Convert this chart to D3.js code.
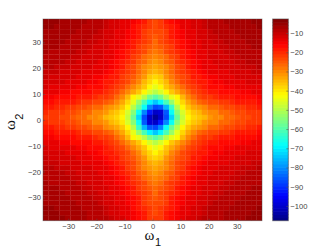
<!DOCTYPE html>
<html>
<head>
<meta charset="utf-8">
<script src="https://cdnjs.cloudflare.com/ajax/libs/d3/7.8.5/d3.min.js"></script>
<style>
body { margin: 0; background: #fff; }
svg { display: block; }
.tick text { font-family: "Liberation Sans", sans-serif; font-size: 7.6px; fill: #444; }
.tick line { stroke: #555; }
.domain { display: none; }
</style>
</head>
<body>
<div id="chart-area"></div>
<script>
// tick labels
var omegaTicks = [-30, -20, -10, 0, 10, 20, 30];
var barTicks = [-10, -20, -30, -40, -50, -60, -70, -80, -90, -100];

// jet colormap stops
var jetStops = ["#000080", "#0000ff", "#00ffff", "#ffff00", "#ff0000", "#800000"];
var jetDomain = [-107.7, -94.6, -68.3, -42.1, -15.8, -2.7];

// magnitude in dB, top row first, left column first
var magnitude = [
[-5,-5,-5,-6,-6,-6,-7,-7,-8,-8,-9,-10,-11,-12,-13,-14,-15,-17,-19,-21,-23,-21,-19,-17,-15,-14,-13,-12,-11,-10,-9,-8,-8,-7,-7,-6,-6,-6,-5,-5],
[-5,-5,-6,-6,-6,-7,-7,-8,-8,-9,-9,-10,-11,-12,-13,-14,-16,-18,-20,-22,-23,-22,-20,-18,-16,-14,-13,-12,-11,-10,-9,-9,-8,-8,-7,-7,-6,-6,-6,-5],
[-6,-6,-6,-6,-7,-7,-8,-8,-9,-9,-10,-11,-12,-13,-14,-15,-17,-19,-21,-23,-24,-23,-21,-19,-17,-15,-14,-13,-12,-11,-10,-9,-9,-8,-8,-7,-7,-6,-6,-6],
[-6,-6,-7,-7,-7,-8,-8,-9,-9,-10,-10,-11,-12,-13,-14,-15,-17,-19,-21,-24,-25,-24,-21,-19,-17,-15,-14,-13,-12,-11,-10,-10,-9,-9,-8,-8,-7,-7,-7,-6],
[-6,-7,-7,-7,-8,-8,-9,-9,-10,-10,-11,-12,-13,-14,-15,-16,-18,-20,-22,-24,-26,-24,-22,-20,-18,-16,-15,-14,-13,-12,-11,-10,-10,-9,-9,-8,-8,-7,-7,-7],
[-7,-7,-7,-8,-8,-9,-9,-10,-10,-11,-11,-12,-13,-14,-15,-17,-19,-21,-23,-25,-27,-25,-23,-21,-19,-17,-15,-14,-13,-12,-11,-11,-10,-10,-9,-9,-8,-8,-7,-7],
[-7,-8,-8,-8,-9,-9,-10,-10,-11,-11,-12,-13,-14,-15,-16,-18,-20,-22,-24,-26,-28,-26,-24,-22,-20,-18,-16,-15,-14,-13,-12,-11,-11,-10,-10,-9,-9,-8,-8,-8],
[-8,-8,-8,-9,-9,-10,-10,-11,-11,-12,-12,-13,-14,-15,-17,-19,-21,-24,-26,-28,-29,-28,-26,-24,-21,-19,-17,-15,-14,-13,-12,-12,-11,-11,-10,-10,-9,-9,-8,-8],
[-8,-9,-9,-9,-10,-10,-11,-11,-12,-12,-13,-14,-15,-16,-18,-20,-22,-25,-27,-29,-31,-29,-27,-25,-22,-20,-18,-16,-15,-14,-13,-12,-12,-11,-11,-10,-10,-9,-9,-9],
[-9,-9,-10,-10,-10,-11,-11,-12,-12,-13,-13,-14,-15,-17,-19,-21,-24,-26,-29,-31,-33,-31,-29,-26,-24,-21,-19,-17,-15,-14,-13,-13,-12,-12,-11,-11,-10,-10,-10,-9],
[-10,-10,-10,-11,-11,-12,-12,-13,-13,-14,-14,-15,-16,-18,-20,-22,-24,-27,-30,-33,-35,-33,-30,-27,-24,-22,-20,-18,-16,-15,-14,-14,-13,-13,-12,-12,-11,-11,-10,-10],
[-10,-11,-11,-11,-12,-12,-13,-13,-14,-15,-15,-16,-18,-19,-21,-23,-25,-28,-32,-36,-38,-36,-32,-28,-25,-23,-21,-19,-18,-16,-15,-15,-14,-13,-13,-12,-12,-11,-11,-11],
[-11,-12,-12,-12,-13,-13,-14,-14,-15,-15,-16,-18,-19,-20,-22,-24,-27,-30,-34,-38,-41,-38,-34,-30,-27,-24,-22,-20,-19,-18,-16,-15,-15,-14,-14,-13,-13,-12,-12,-12],
[-12,-13,-13,-13,-14,-14,-15,-15,-16,-16,-17,-19,-20,-22,-24,-26,-29,-33,-37,-41,-44,-41,-37,-33,-29,-26,-24,-22,-20,-19,-17,-16,-16,-15,-15,-14,-14,-13,-13,-13],
[-14,-14,-14,-15,-15,-16,-16,-17,-17,-18,-19,-20,-22,-24,-26,-30,-33,-37,-41,-46,-49,-46,-41,-37,-33,-30,-26,-24,-22,-20,-19,-18,-17,-17,-16,-16,-15,-15,-14,-14],
[-15,-15,-16,-16,-17,-17,-18,-18,-19,-20,-21,-22,-24,-27,-30,-35,-41,-45,-50,-56,-60,-56,-50,-45,-41,-35,-30,-27,-24,-22,-21,-20,-19,-18,-18,-17,-17,-16,-16,-15],
[-17,-17,-18,-18,-19,-19,-20,-21,-22,-23,-24,-25,-27,-30,-33,-38,-45,-52,-61,-69,-74,-69,-61,-52,-45,-38,-33,-30,-27,-25,-24,-23,-22,-21,-20,-19,-19,-18,-18,-17],
[-19,-19,-20,-20,-21,-22,-23,-24,-25,-26,-27,-29,-31,-33,-37,-42,-49,-58,-68,-80,-88,-85,-76,-62,-49,-42,-37,-33,-31,-29,-27,-26,-25,-24,-23,-22,-21,-20,-20,-19],
[-20,-21,-21,-22,-23,-24,-25,-26,-27,-29,-30,-32,-34,-36,-39,-46,-55,-68,-81,-92,-100,-98,-85,-68,-55,-46,-39,-36,-34,-32,-30,-29,-27,-26,-25,-24,-23,-22,-21,-21],
[-21,-21,-22,-23,-24,-25,-26,-27,-29,-30,-32,-34,-36,-38,-41,-48,-58,-72,-88,-100,-106,-100,-88,-72,-58,-48,-41,-38,-36,-34,-32,-30,-29,-27,-26,-25,-24,-23,-22,-21],
[-20,-21,-21,-22,-23,-24,-25,-26,-27,-29,-30,-32,-34,-36,-39,-46,-55,-68,-85,-98,-100,-92,-81,-68,-55,-46,-39,-36,-34,-32,-30,-29,-27,-26,-25,-24,-23,-22,-21,-21],
[-19,-19,-20,-20,-21,-22,-23,-24,-25,-26,-27,-29,-31,-33,-37,-42,-49,-62,-76,-85,-88,-80,-68,-58,-49,-42,-37,-33,-31,-29,-27,-26,-25,-24,-23,-22,-21,-20,-20,-19],
[-17,-17,-18,-18,-19,-19,-20,-21,-22,-23,-24,-25,-27,-30,-33,-38,-45,-52,-61,-69,-74,-69,-61,-52,-45,-38,-33,-30,-27,-25,-24,-23,-22,-21,-20,-19,-19,-18,-18,-17],
[-15,-15,-16,-16,-17,-17,-18,-18,-19,-20,-21,-22,-24,-27,-30,-35,-41,-45,-50,-56,-60,-56,-50,-45,-41,-35,-30,-27,-24,-22,-21,-20,-19,-18,-18,-17,-17,-16,-16,-15],
[-14,-14,-14,-15,-15,-16,-16,-17,-17,-18,-19,-20,-22,-24,-26,-30,-33,-37,-41,-46,-49,-46,-41,-37,-33,-30,-26,-24,-22,-20,-19,-18,-17,-17,-16,-16,-15,-15,-14,-14],
[-12,-13,-13,-13,-14,-14,-15,-15,-16,-16,-17,-19,-20,-22,-24,-26,-29,-33,-37,-41,-44,-41,-37,-33,-29,-26,-24,-22,-20,-19,-17,-16,-16,-15,-15,-14,-14,-13,-13,-13],
[-11,-12,-12,-12,-13,-13,-14,-14,-15,-15,-16,-18,-19,-20,-22,-24,-27,-30,-34,-38,-41,-38,-34,-30,-27,-24,-22,-20,-19,-18,-16,-15,-15,-14,-14,-13,-13,-12,-12,-12],
[-10,-11,-11,-11,-12,-12,-13,-13,-14,-15,-15,-16,-18,-19,-21,-23,-25,-28,-32,-36,-38,-36,-32,-28,-25,-23,-21,-19,-18,-16,-15,-15,-14,-13,-13,-12,-12,-11,-11,-11],
[-10,-10,-10,-11,-11,-12,-12,-13,-13,-14,-14,-15,-16,-18,-20,-22,-24,-27,-30,-33,-35,-33,-30,-27,-24,-22,-20,-18,-16,-15,-14,-14,-13,-13,-12,-12,-11,-11,-10,-10],
[-9,-9,-10,-10,-10,-11,-11,-12,-12,-13,-13,-14,-15,-17,-19,-21,-24,-26,-29,-31,-33,-31,-29,-26,-24,-21,-19,-17,-15,-14,-13,-13,-12,-12,-11,-11,-10,-10,-10,-9],
[-8,-9,-9,-9,-10,-10,-11,-11,-12,-12,-13,-14,-15,-16,-18,-20,-22,-25,-27,-29,-31,-29,-27,-25,-22,-20,-18,-16,-15,-14,-13,-12,-12,-11,-11,-10,-10,-9,-9,-9],
[-8,-8,-8,-9,-9,-10,-10,-11,-11,-12,-12,-13,-14,-15,-17,-19,-21,-24,-26,-28,-29,-28,-26,-24,-21,-19,-17,-15,-14,-13,-12,-12,-11,-11,-10,-10,-9,-9,-8,-8],
[-7,-8,-8,-8,-9,-9,-10,-10,-11,-11,-12,-13,-14,-15,-16,-18,-20,-22,-24,-26,-28,-26,-24,-22,-20,-18,-16,-15,-14,-13,-12,-11,-11,-10,-10,-9,-9,-8,-8,-8],
[-7,-7,-7,-8,-8,-9,-9,-10,-10,-11,-11,-12,-13,-14,-15,-17,-19,-21,-23,-25,-27,-25,-23,-21,-19,-17,-15,-14,-13,-12,-11,-11,-10,-10,-9,-9,-8,-8,-7,-7],
[-6,-7,-7,-7,-8,-8,-9,-9,-10,-10,-11,-12,-13,-14,-15,-16,-18,-20,-22,-24,-26,-24,-22,-20,-18,-16,-15,-14,-13,-12,-11,-10,-10,-9,-9,-8,-8,-7,-7,-7],
[-6,-6,-7,-7,-7,-8,-8,-9,-9,-10,-10,-11,-12,-13,-14,-15,-17,-19,-21,-24,-25,-24,-21,-19,-17,-15,-14,-13,-12,-11,-10,-10,-9,-9,-8,-8,-7,-7,-7,-6],
[-6,-6,-6,-6,-7,-7,-8,-8,-9,-9,-10,-11,-12,-13,-14,-15,-17,-19,-21,-23,-24,-23,-21,-19,-17,-15,-14,-13,-12,-11,-10,-9,-9,-8,-8,-7,-7,-6,-6,-6],
[-5,-5,-6,-6,-6,-7,-7,-8,-8,-9,-9,-10,-11,-12,-13,-14,-16,-18,-20,-22,-23,-22,-20,-18,-16,-14,-13,-12,-11,-10,-9,-9,-8,-8,-7,-7,-6,-6,-6,-5],
[-5,-5,-5,-6,-6,-6,-7,-7,-8,-8,-9,-10,-11,-12,-13,-14,-15,-17,-19,-21,-23,-21,-19,-17,-15,-14,-13,-12,-11,-10,-9,-8,-8,-7,-7,-6,-6,-6,-5,-5],
[-5,-5,-5,-5,-6,-6,-7,-7,-8,-8,-9,-9,-10,-11,-12,-13,-15,-17,-19,-21,-22,-21,-19,-17,-15,-13,-12,-11,-10,-9,-9,-8,-8,-7,-7,-6,-6,-5,-5,-5]
];

var svg = d3.select("#chart-area").append("svg")
    .attr("width", 332)
    .attr("height", 250);

var plot = { left: 43, right: 262, top: 19, bottom: 220.7 };
var bar = { left: 272.7, right: 288.3 };

// axes scales
var x = d3.scaleLinear().domain([-39, 39]).range([plot.left, plot.right]);
var y = d3.scaleLinear().domain([-39, 39]).range([plot.bottom, plot.top]);

// cell scales
var col = d3.scaleBand().domain(d3.range(magnitude[0].length)).range([plot.left, plot.right]);
var row = d3.scaleBand().domain(d3.range(magnitude.length)).range([plot.top, plot.bottom]);

// 64 level jet like matlab
var jetRamp = d3.scaleLinear().domain(jetDomain).range(jetStops).clamp(true);
var barY = d3.scaleLinear().domain([-2.7, -107.7]).range([plot.top, plot.bottom]);
var levels = d3.range(64);
var levelValue = i => -107.7 + (i + 0.5) * 105 / 64;
var color = d3.scaleQuantize().domain([-107.7, -2.7]).range(levels.map(i => jetRamp(levelValue(i))));

// heat map cells, slight overlap so the seams stay faint
magnitude.forEach((values, r) => {
    svg.append("g").selectAll("rect")
        .data(values)
        .enter().append("rect")
        .attr("x", (d, c) => col(c))
        .attr("y", row(r))
        .attr("width", (d, c) => c == values.length - 1 ? col.bandwidth() : col.bandwidth() + 0.25)
        .attr("height", r == magnitude.length - 1 ? row.bandwidth() : row.bandwidth() + 0.25)
        .attr("fill", d => color(d));
});

// colorbar bands
var step = 105 / 64;
svg.append("g").selectAll("rect")
    .data(levels)
    .enter().append("rect")
    .attr("x", bar.left)
    .attr("y", i => barY(levelValue(i) + step / 2))
    .attr("width", bar.right - bar.left)
    .attr("height", i => i == 0 ? barY(0) - barY(step) : barY(0) - barY(step) + 0.6)
    .attr("fill", i => color.range()[i]);

// axes, ticks point inward
var xAxis = svg.append("g")
    .attr("transform", "translate(0," + plot.bottom + ")")
    .call(d3.axisBottom(x).tickValues(omegaTicks).tickSizeInner(-2).tickPadding(2.5));
var yAxis = svg.append("g")
    .attr("transform", "translate(" + plot.left + ",0)")
    .call(d3.axisLeft(y).tickValues(omegaTicks).tickSizeInner(-2).tickPadding(2));
var barAxis = svg.append("g")
    .attr("transform", "translate(" + bar.right + ",0)")
    .call(d3.axisRight(barY).tickValues(barTicks).tickSizeInner(-2).tickPadding(2));

xAxis.selectAll(".tick line").attr("stroke-width", 0.5);
yAxis.selectAll(".tick line").attr("stroke-width", 0.5);
barAxis.selectAll(".tick line").attr("stroke-width", 0.6);

// boxes
svg.append("rect")
    .attr("x", plot.left).attr("y", plot.top)
    .attr("width", plot.right - plot.left).attr("height", plot.bottom - plot.top)
    .attr("fill", "none").attr("stroke", "#444").attr("stroke-opacity", 0.55).attr("stroke-width", 0.8);
svg.append("rect")
    .attr("x", bar.left).attr("y", plot.top)
    .attr("width", bar.right - bar.left).attr("height", plot.bottom - plot.top)
    .attr("fill", "none").attr("stroke", "#444").attr("stroke-opacity", 0.6).attr("stroke-width", 1);

// axis titles
var xTitle = svg.append("text")
    .attr("x", 144.5).attr("y", 239.5)
    .attr("font-family", "'Liberation Serif', serif").attr("font-size", "15px").attr("fill", "#111");
xTitle.append("tspan").text("ω");
xTitle.append("tspan").attr("dx", 0.5).attr("dy", 6.5).attr("font-size", "11px")
    .attr("font-family", "'Liberation Sans', sans-serif").text("1");

var yTitle = svg.append("text")
    .attr("transform", "translate(14.5,130) rotate(-90)")
    .attr("font-family", "'Liberation Serif', serif").attr("font-size", "15px").attr("fill", "#111");
yTitle.append("tspan").text("ω");
yTitle.append("tspan").attr("dx", 0.5).attr("dy", 8).attr("font-size", "11px")
    .attr("font-family", "'Liberation Sans', sans-serif").text("2");
</script>
</body>
</html>
